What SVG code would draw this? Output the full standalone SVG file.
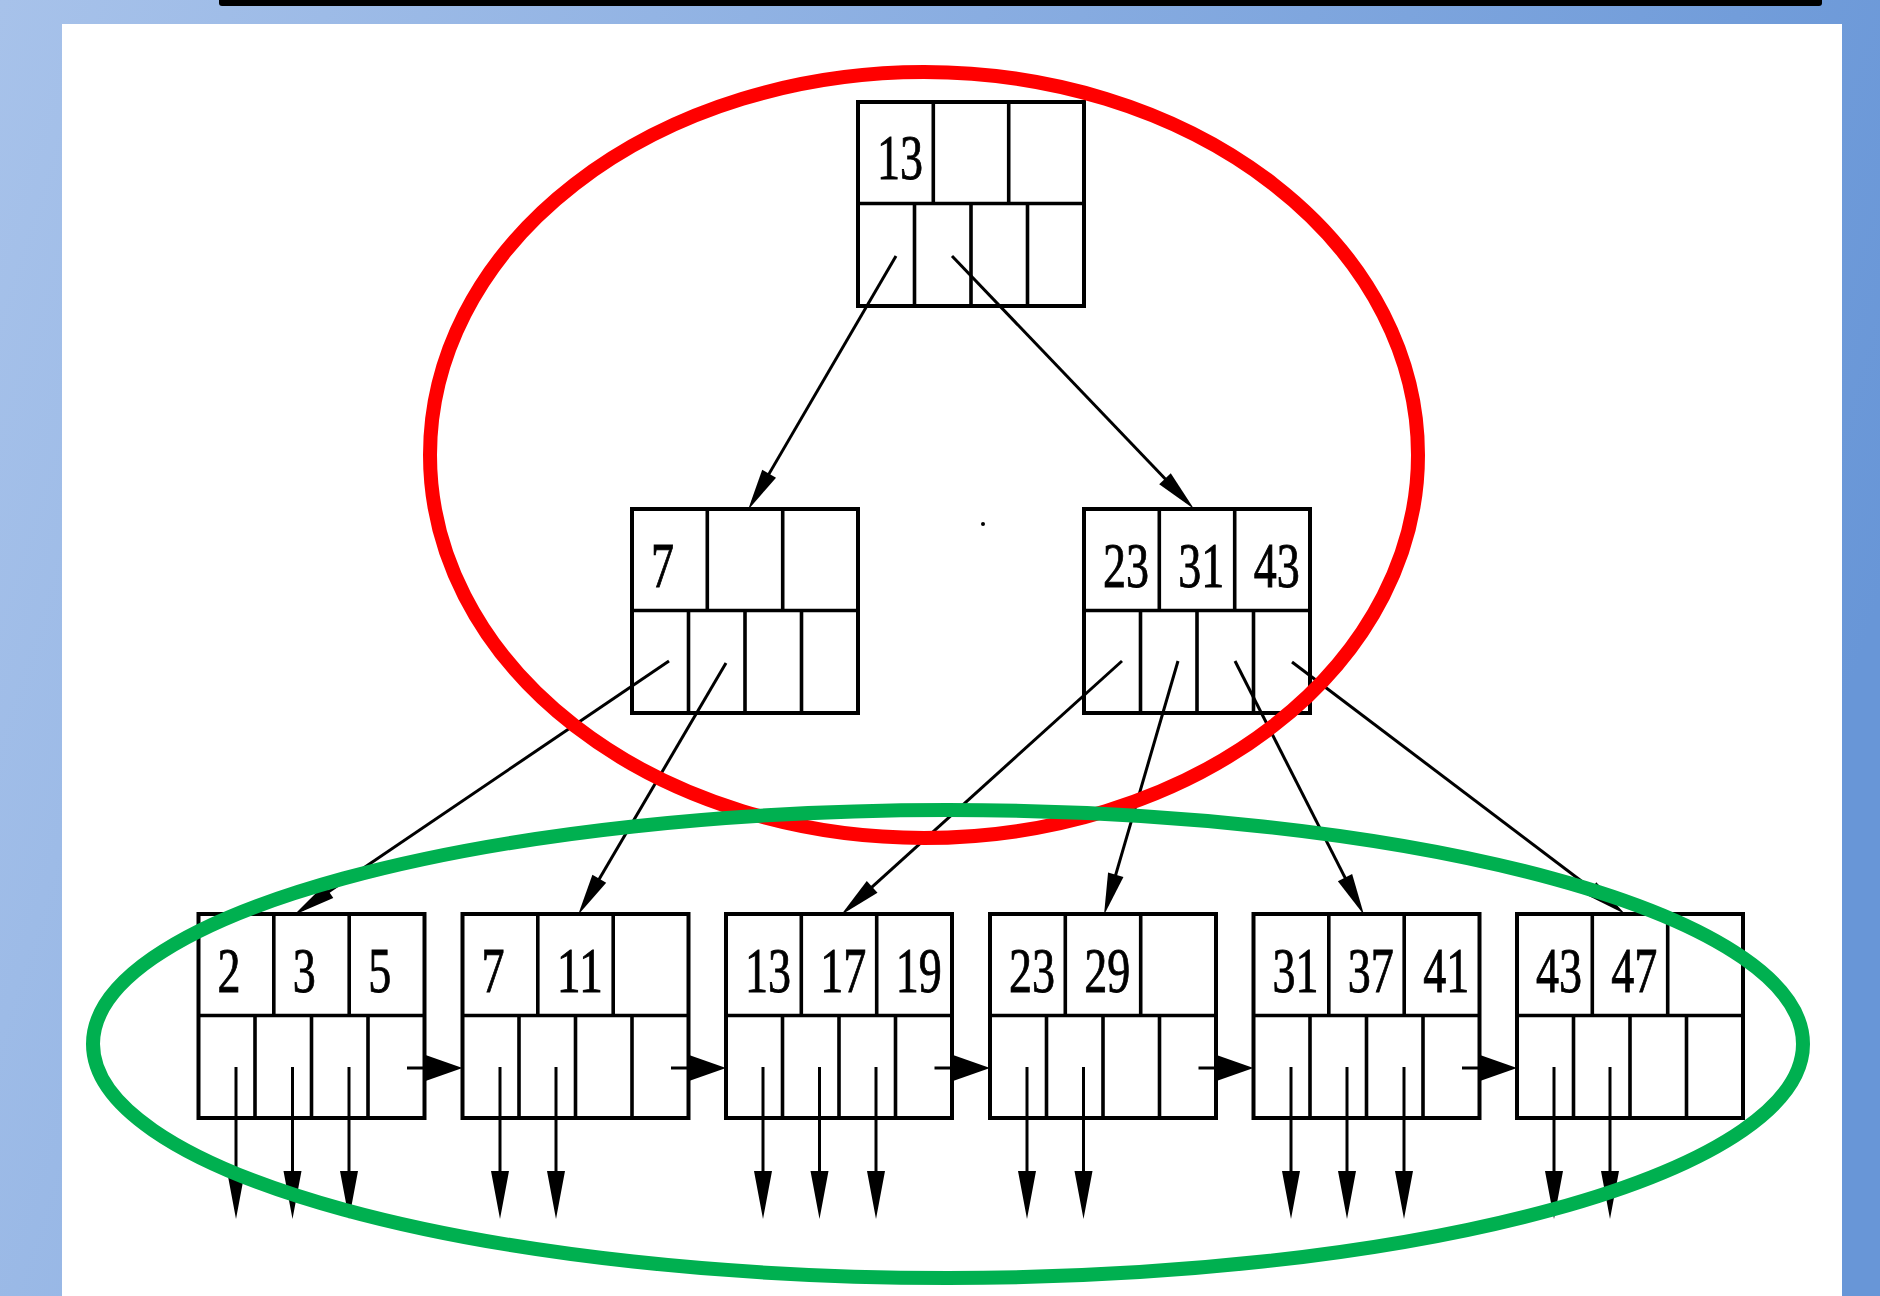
<svg xmlns="http://www.w3.org/2000/svg" xmlns:xlink="http://www.w3.org/1999/xlink" width="1880" height="1296" viewBox="0 0 1880 1296">
  <style>
    .box { fill: #fff; stroke: #000; stroke-width: 4; }
    .div { fill: none; stroke: #000; stroke-width: 3.6; }
    .k { font-family: "Liberation Serif", "Times New Roman", serif; font-size: 64px; fill: #000; stroke: #000; stroke-width: 0.9; }
    .ptr { fill: none; stroke: #000; stroke-width: 3; }
    .ring { fill: none; stroke-width: 14; }
  </style>
  <defs>
    <linearGradient id="bg" gradientUnits="userSpaceOnUse" x1="0" y1="0" x2="1880" y2="600">
      <stop offset="0" stop-color="#a7c2ea"/>
      <stop offset="1" stop-color="#6896d7"/>
    </linearGradient>
    <!-- B+ tree node: 3 key cells on top, 4 pointer cells below -->
    <g id="node">
      <rect class="box" x="0" y="0" width="226" height="204"/>
      <path class="div" d="M0,101.5H226 M75.3,0V101.5 M150.7,0V101.5 M56.5,101.5V204 M113,101.5V204 M169.5,101.5V204"/>
    </g>
    <!-- arrowheads: tip sits 10px beyond the line end -->
    <marker id="headDiag" markerUnits="userSpaceOnUse" viewBox="-50 -10 50 20" markerWidth="50" markerHeight="20" refX="-10" refY="0" orient="auto" overflow="visible">
      <path d="M0,0 L-42,-8 L-42,8 Z" fill="#000"/>
    </marker>
    <marker id="headDown" markerUnits="userSpaceOnUse" viewBox="-50 -10 50 20" markerWidth="50" markerHeight="20" refX="-10" refY="0" orient="auto" overflow="visible">
      <path d="M0,0 L-48,-9 L-48,9 Z" fill="#000"/>
    </marker>
    <marker id="headNext" markerUnits="userSpaceOnUse" viewBox="-50 -15 50 30" markerWidth="50" markerHeight="30" refX="-10" refY="0" orient="auto" overflow="visible">
      <path d="M0,0 L-37,-13 L-37,13 Z" fill="#000"/>
    </marker>
  </defs>

  <!-- backdrop and slide panel -->
  <rect x="0" y="0" width="1880" height="1296" fill="url(#bg)"/>
  <rect x="219" y="-6" width="1603" height="12" rx="3" fill="#000"/>
  <rect x="62" y="24" width="1780" height="1280" fill="#fff"/>

  <!-- root -->
  <g id="n-root" transform="translate(858,102)">
    <use href="#node"/>
    <text class="k" x="19" y="77" textLength="46" lengthAdjust="spacingAndGlyphs">13</text>
  </g>

  <!-- internal nodes -->
  <g id="n-7" transform="translate(632,509)">
    <use href="#node"/>
    <text class="k" x="19" y="78" textLength="23" lengthAdjust="spacingAndGlyphs">7</text>
  </g>
  <g id="n-23-31-43" transform="translate(1084,509)">
    <use href="#node"/>
    <text class="k" x="19" y="78" textLength="46" lengthAdjust="spacingAndGlyphs">23</text>
    <text class="k" x="94.3" y="78" textLength="46" lengthAdjust="spacingAndGlyphs">31</text>
    <text class="k" x="169.7" y="78" textLength="46" lengthAdjust="spacingAndGlyphs">43</text>
  </g>

  <!-- leaves -->
  <g id="leaf-2-3-5" transform="translate(198.5,914)">
    <use href="#node"/>
    <text class="k" x="19" y="78" textLength="23" lengthAdjust="spacingAndGlyphs">2</text>
    <text class="k" x="94.3" y="78" textLength="23" lengthAdjust="spacingAndGlyphs">3</text>
    <text class="k" x="169.7" y="78" textLength="23" lengthAdjust="spacingAndGlyphs">5</text>
  </g>
  <g id="leaf-7-11" transform="translate(462.5,914)">
    <use href="#node"/>
    <text class="k" x="19" y="78" textLength="23" lengthAdjust="spacingAndGlyphs">7</text>
    <text class="k" x="94.3" y="78" textLength="46" lengthAdjust="spacingAndGlyphs">11</text>
  </g>
  <g id="leaf-13-17-19" transform="translate(726,914)">
    <use href="#node"/>
    <text class="k" x="19" y="78" textLength="46" lengthAdjust="spacingAndGlyphs">13</text>
    <text class="k" x="94.3" y="78" textLength="46" lengthAdjust="spacingAndGlyphs">17</text>
    <text class="k" x="169.7" y="78" textLength="46" lengthAdjust="spacingAndGlyphs">19</text>
  </g>
  <g id="leaf-23-29" transform="translate(990,914)">
    <use href="#node"/>
    <text class="k" x="19" y="78" textLength="46" lengthAdjust="spacingAndGlyphs">23</text>
    <text class="k" x="94.3" y="78" textLength="46" lengthAdjust="spacingAndGlyphs">29</text>
  </g>
  <g id="leaf-31-37-41" transform="translate(1253.5,914)">
    <use href="#node"/>
    <text class="k" x="19" y="78" textLength="46" lengthAdjust="spacingAndGlyphs">31</text>
    <text class="k" x="94.3" y="78" textLength="46" lengthAdjust="spacingAndGlyphs">37</text>
    <text class="k" x="169.7" y="78" textLength="46" lengthAdjust="spacingAndGlyphs">41</text>
  </g>
  <g id="leaf-43-47" transform="translate(1517,914)">
    <use href="#node"/>
    <text class="k" x="19" y="78" textLength="46" lengthAdjust="spacingAndGlyphs">43</text>
    <text class="k" x="94.3" y="78" textLength="46" lengthAdjust="spacingAndGlyphs">47</text>
  </g>

  <!-- connectors -->
  <g id="connectors" class="ptr">
    <!-- root to internal -->
    <line x1="896" y1="256" x2="753" y2="501.3" marker-end="url(#headDiag)"/>
    <line x1="952" y1="256" x2="1187.1" y2="501.8" marker-end="url(#headDiag)"/>
    <!-- internal to leaves -->
    <line x1="669" y1="661" x2="302.3" y2="909.4" marker-end="url(#headDiag)"/>
    <line x1="726" y1="663" x2="583.1" y2="906.4" marker-end="url(#headDiag)"/>
    <line x1="1122" y1="661" x2="848.4" y2="908.3" marker-end="url(#headDiag)"/>
    <line x1="1178" y1="661" x2="1106.8" y2="905.4" marker-end="url(#headDiag)"/>
    <line x1="1235" y1="661" x2="1359.5" y2="906.1" marker-end="url(#headDiag)"/>
    <line x1="1292" y1="662" x2="1617" y2="908" marker-end="url(#headDiag)"/>
    <!-- sibling links between leaves -->
    <line x1="407" y1="1068" x2="452.5" y2="1068" marker-end="url(#headNext)"/>
    <line x1="671" y1="1068" x2="716" y2="1068" marker-end="url(#headNext)"/>
    <line x1="934.5" y1="1068" x2="980" y2="1068" marker-end="url(#headNext)"/>
    <line x1="1198.5" y1="1068" x2="1243.5" y2="1068" marker-end="url(#headNext)"/>
    <line x1="1462" y1="1068" x2="1507" y2="1068" marker-end="url(#headNext)"/>
    <!-- record pointers out of leaves -->
    <g marker-end="url(#headDown)">
      <line x1="236" y1="1067" x2="236" y2="1209"/>
      <line x1="292.5" y1="1067" x2="292.5" y2="1209"/>
      <line x1="349" y1="1067" x2="349" y2="1209"/>
      <line x1="500" y1="1067" x2="500" y2="1209"/>
      <line x1="556" y1="1067" x2="556" y2="1209"/>
      <line x1="763" y1="1067" x2="763" y2="1209"/>
      <line x1="819.5" y1="1067" x2="819.5" y2="1209"/>
      <line x1="876" y1="1067" x2="876" y2="1209"/>
      <line x1="1027" y1="1067" x2="1027" y2="1209"/>
      <line x1="1083.5" y1="1067" x2="1083.5" y2="1209"/>
      <line x1="1291" y1="1067" x2="1291" y2="1209"/>
      <line x1="1347" y1="1067" x2="1347" y2="1209"/>
      <line x1="1404" y1="1067" x2="1404" y2="1209"/>
      <line x1="1554" y1="1067" x2="1554" y2="1209"/>
      <line x1="1610" y1="1067" x2="1610" y2="1209"/>
    </g>
  </g>
  <circle cx="983" cy="524" r="2" fill="#000"/>

  <!-- highlight rings: index levels and leaf level -->
  <ellipse class="ring" cx="924" cy="455" rx="494" ry="383" stroke="#ff0000"/>
  <ellipse class="ring" cx="948" cy="1044" rx="855" ry="234" stroke="#00b050"/>
</svg>
